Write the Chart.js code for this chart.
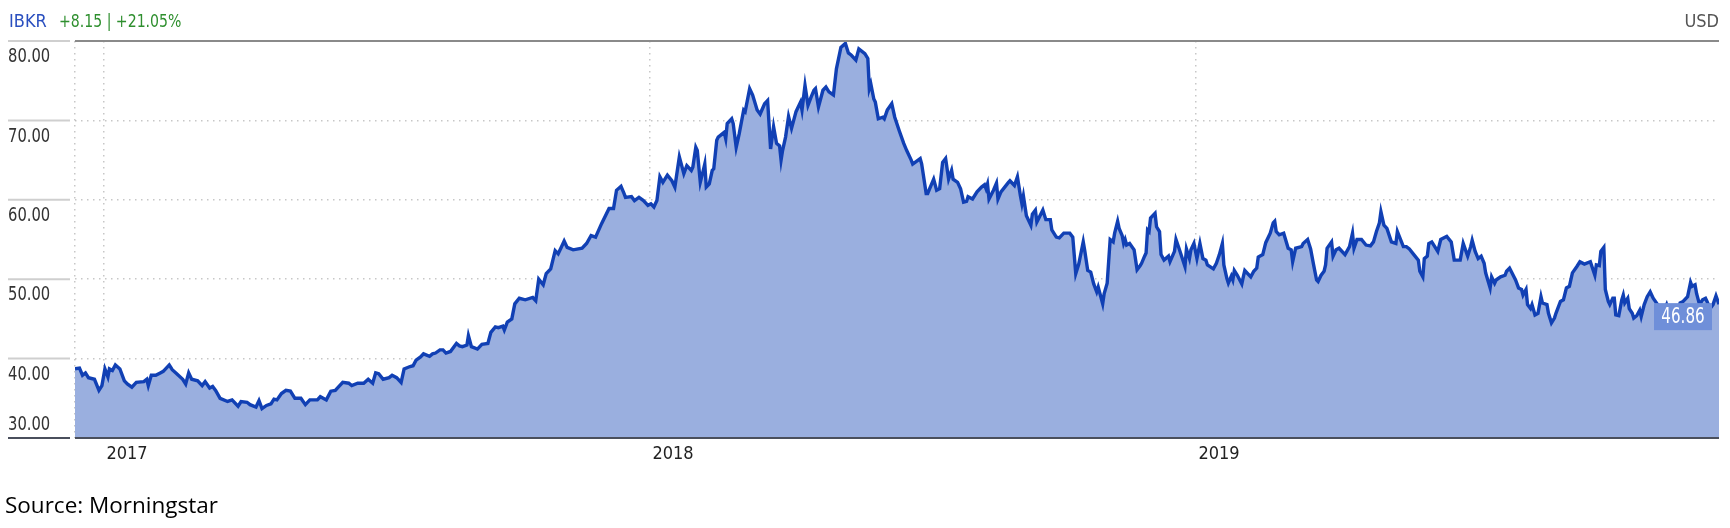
<!DOCTYPE html>
<html>
<head>
<meta charset="utf-8">
<script src="https://cdn.jsdelivr.net/npm/chart.js@4.4.1/dist/chart.umd.min.js"></script>
<style>
  html, body { margin: 0; padding: 0; background: #fff; }
  #wrap { position: relative; width: 1730px; height: 528px; overflow: hidden; }
  #graph { position: absolute; left: 0; top: 0; }
  .narrow { font-family: 'DejaVu Sans Condensed', 'Roboto', sans-serif; }
  #ticker { position: absolute; left: 9px; top: 10px; font-size: 18px; color: #2a4fbf; }
  #change { position: absolute; left: 59px; top: 10px; font-size: 18px; color: #2e8f2e; transform: scaleX(0.87); transform-origin: left center; white-space: nowrap; }
  #currency { position: absolute; right: 11px; top: 10px; font-size: 18px; color: #555; }
  #source { position: absolute; left: 5px; top: 489px; font-family: 'Open Sans', sans-serif; font-size: 22.5px; color: #000; }
</style>
</head>
<body>
<div id="wrap">
  <canvas id="graph" width="1730" height="528"></canvas>
  <div id="ticker" class="narrow">IBKR</div>
  <div id="change" class="narrow">+8.15 | +21.05%</div>
  <div id="currency" class="narrow">USD</div>
  <div id="source">Source: Morningstar</div>
</div>
<script>
// days since 2017-01-01
const days = [
  -19, -16, -14, -12, -10, -6, -3, -1, 1, 3, 4, 6, 8, 11, 14, 16, 19, 22, 27, 29,
  30, 32, 35, 38, 40, 44, 46, 49, 53, 55, 57, 59, 63, 66, 68, 71, 73, 75, 78, 83,
  86, 90, 92, 96, 98, 102, 104, 106, 109, 112, 114, 116, 119, 122, 125, 128, 132, 135, 138, 143,
  145, 149, 152, 155, 157, 160, 164, 166, 170, 174, 177, 180, 182, 184, 187, 191, 193, 196, 199, 201,
  205, 207, 209, 212, 214, 218, 220, 222, 225, 227, 229, 232, 236, 238, 240, 243, 244, 246, 250, 253,
  257, 259, 262, 264, 267, 268, 270, 273, 275, 278, 282, 287, 289, 291, 294, 296, 299, 302, 304, 306,
  308, 310, 314, 320, 323, 326, 329, 333, 338, 341, 343, 346, 348, 349, 353, 355, 358, 361, 364, 366,
  368, 370, 372, 374, 377, 380, 382, 385, 388, 390, 393, 394, 396, 397, 399, 401, 402, 403, 405, 407,
  408, 410, 411, 415, 416, 417, 420, 421, 423, 425, 428, 429, 432, 434, 437, 439, 442, 444, 446, 448,
  450, 452, 453, 454, 456, 458, 460, 463, 466, 467, 469, 471, 473, 475, 476, 478, 481, 483, 485, 488,
  490, 493, 496, 498, 500, 503, 505, 509, 511, 512, 513, 515, 516, 518, 521, 522, 524, 527, 529, 532,
  535, 537, 540, 541, 546, 547, 550, 551, 555, 557, 559, 561, 563, 565, 567, 568, 571, 573, 575, 577,
  578, 581, 584, 587, 589, 590, 591, 592, 595, 597, 598, 600, 605, 606, 609, 611, 613, 614, 615, 617,
  620, 621, 623, 624, 628, 630, 633, 634, 637, 639, 642, 646, 648, 650, 652, 655, 656, 658, 660, 662,
  664, 665, 668, 669, 671, 673, 675, 676, 678, 679, 681, 682, 683, 684, 686, 689, 691, 693, 694, 696,
  697, 698, 699, 700, 703, 704, 706, 707, 709, 712, 713, 716, 717, 719, 723, 724, 726, 727, 729, 731,
  733, 735, 737, 738, 742, 744, 746, 748, 749, 751, 752, 754, 755, 756, 758, 761, 762, 763, 767, 769,
  771, 772, 775, 777, 780, 782, 783, 784, 786, 789, 792, 794, 795, 797, 801, 802, 805, 807, 809, 811,
  812, 814, 816, 817, 818, 821, 822, 824, 826, 830, 833, 835, 836, 838, 841, 844, 847, 849, 851, 853,
  854, 856, 858, 861, 864, 865, 869, 871, 873, 876, 879, 880, 882, 883, 885, 886, 888, 892, 894, 898,
  901, 903, 907, 909, 912, 914, 915, 917, 919, 921, 923, 924, 927, 928, 930, 931, 934, 937, 938, 940,
  944, 946, 948, 949, 951, 952, 954, 955, 957, 959, 961, 962, 965, 966, 968, 970, 971, 974, 976, 978,
  980, 982, 985, 987, 990, 994, 997, 998, 1000, 1001, 1003, 1004, 1006, 1007, 1009, 1010, 1011, 1013, 1015, 1016,
  1017, 1019, 1020, 1022, 1023, 1025, 1027, 1028, 1030, 1032, 1034, 1036, 1039, 1041, 1043, 1045, 1046, 1048, 1053, 1054,
  1056, 1059, 1061, 1062, 1064, 1065, 1067, 1069, 1071, 1072, 1074, 1076, 1078, 1080
];
const prices = [
  38.71, 38.8, 37.9, 38.2, 37.6, 37.4, 36.0, 36.6, 38.7, 37.7, 38.7, 38.5, 39.2, 38.7, 37.2, 36.8, 36.4, 37.0, 37.1, 37.4,
  36.6, 37.9, 37.9, 38.2, 38.4, 39.2, 38.6, 38.1, 37.4, 36.8, 38.2, 37.4, 37.2, 36.6, 37.1, 36.3, 36.5, 36.0, 35.0, 34.6,
  34.8, 34.0, 34.6, 34.5, 34.2, 33.9, 34.7, 33.7, 34.1, 34.3, 34.9, 34.8, 35.6, 36.0, 35.9, 35.0, 35.0, 34.2, 34.8, 34.8,
  35.2, 34.8, 35.9, 36.0, 36.4, 37.0, 36.9, 36.6, 36.9, 36.9, 37.4, 36.9, 38.2, 38.1, 37.4, 37.6, 37.9, 37.6, 37.0, 38.7,
  39.0, 39.1, 39.8, 40.2, 40.6, 40.3, 40.6, 40.7, 41.1, 41.1, 40.7, 40.9, 41.9, 41.6, 41.5, 41.7, 42.9, 41.5, 41.2, 41.8,
  41.9, 43.3, 44.0, 43.9, 44.1, 43.6, 44.6, 45.0, 46.9, 47.6, 47.4, 47.7, 47.3, 50.0, 49.3, 50.7, 51.3, 53.6, 53.2, 54.0,
  54.8, 54.0, 53.7, 53.9, 54.5, 55.5, 55.3, 57.0, 58.9, 58.9, 61.2, 61.7, 60.8, 60.3, 60.4, 59.9, 60.3, 59.9, 59.3, 59.5,
  59.1, 59.9, 62.9, 62.2, 63.1, 62.4, 61.6, 65.4, 63.3, 64.3, 63.7, 64.1, 66.6, 66.2, 62.2, 63.7, 64.5, 61.6, 62.0, 63.7,
  63.9, 67.5, 67.9, 68.5, 67.7, 69.6, 70.2, 69.6, 66.6, 68.3, 71.3, 71.1, 74.0, 73.2, 71.3, 70.8, 72.1, 72.5, 66.4, 69.2,
  67.1, 66.8, 65.0, 66.2, 67.9, 70.5, 69.0, 71.1, 72.3, 71.3, 74.4, 71.9, 72.9, 73.8, 74.0, 71.7, 73.8, 74.2, 73.6, 73.2,
  76.5, 79.2, 79.7, 78.5, 78.2, 77.6, 79.0, 78.4, 77.8, 74.0, 74.6, 72.7, 72.3, 70.2, 70.4, 70.2, 71.3, 72.1, 70.4, 68.7,
  67.1, 66.2, 65.0, 64.5, 65.2, 64.5, 60.8, 60.8, 62.6, 61.2, 61.4, 64.7, 65.2, 62.6, 63.7, 62.6, 62.2, 61.4, 59.7, 59.8,
  60.4, 60.1, 61.0, 61.6, 61.9, 61.4, 62.0, 60.1, 61.2, 62.1, 60.1, 61.0, 62.2, 62.4, 61.8, 62.9, 60.5, 59.5, 60.5, 58.0,
  56.8, 58.2, 58.7, 57.2, 58.7, 57.5, 57.5, 56.2, 55.3, 55.2, 55.8, 55.8, 55.3, 50.7, 51.9, 54.7, 53.6, 51.1, 50.9, 49.4,
  48.4, 49.0, 46.9, 48.2, 49.5, 55.0, 54.7, 55.8, 57.3, 56.4, 55.5, 54.5, 55.0, 54.3, 54.5, 53.7, 51.2, 51.7, 52.0, 52.9,
  53.3, 56.2, 56.0, 57.7, 58.3, 56.6, 56.0, 53.1, 52.4, 52.9, 52.2, 53.5, 55.0, 53.9, 51.6, 53.8, 52.6, 53.7, 54.5, 52.6,
  54.5, 52.6, 52.4, 51.8, 51.3, 52.0, 53.1, 54.5, 51.8, 50.1, 49.5, 50.4, 49.9, 51.1, 50.5, 49.4, 50.3, 51.1, 50.3, 51.0,
  51.4, 52.8, 53.1, 54.6, 55.8, 57.1, 57.3, 56.0, 55.6, 55.8, 53.9, 53.7, 52.2, 53.9, 54.1, 54.5, 55.0, 53.8, 51.8, 49.9,
  49.7, 50.5, 51.0, 51.8, 53.9, 54.7, 52.9, 53.7, 53.9, 53.1, 54.1, 55.8, 53.9, 55.0, 55.0, 54.3, 54.2, 54.7, 56.0, 57.1,
  58.5, 56.8, 56.4, 54.7, 54.5, 56.0, 54.1, 54.1, 53.8, 53.1, 52.4, 51.0, 50.3, 52.6, 52.9, 54.5, 54.7, 53.5, 55.0, 55.4,
  54.7, 52.4, 52.4, 54.5, 52.9, 54.1, 54.9, 53.5, 52.6, 52.9, 52.0, 50.8, 48.9, 50.3, 49.5, 49.9, 50.3, 50.5, 51.0, 51.4,
  49.9, 48.9, 48.7, 48.0, 48.7, 46.8, 46.3, 46.8, 45.5, 45.7, 47.8, 47.0, 46.8, 45.7, 44.5, 45.1, 45.7, 47.2, 47.4, 48.9,
  49.1, 50.8, 51.6, 52.2, 51.9, 52.2, 50.5, 51.8, 51.7, 53.5, 54.0, 48.7, 47.2, 46.8, 47.6, 47.6, 45.5, 45.4, 47.4, 48.0,
  47.0, 47.6, 46.3, 45.7, 45.1, 45.4, 46.1, 45.3, 46.8, 47.8, 48.4, 47.6, 46.8, 46.3, 45.9, 46.8, 46.2, 46.5, 46.3, 47.0,
  47.2, 47.8, 49.6, 49.1, 49.3, 48.2, 46.8, 47.4, 47.6, 47.2, 46.3, 46.8, 47.9, 46.86
];

const yearTicks = [0, 365, 730];
const yearLabels = ['2017', '2018', '2019'];
const priceTicks = [30, 40, 50, 60, 70, 80];

const narrowFont = "'DejaVu Sans Condensed', Roboto, sans-serif";

// draws condensed text by squeezing the canvas horizontally
function squeezeText(c, text, x, y, sx) {
  c.save();
  c.translate(x, y);
  c.scale(sx, 1);
  c.fillText(text, 0, 0);
  c.restore();
}

// axis decorations: left tick strokes + labels, top/bottom rules, last value box
const decorations = {
  id: 'decorations',
  afterDraw(chart) {
    const c = chart.ctx;
    const area = chart.chartArea;
    const y = chart.scales.y;
    c.save();
    c.font = '20px ' + narrowFont;
    c.textAlign = 'left';
    priceTicks.forEach(v => {
      const py = y.getPixelForValue(v);
      const isMin = v === y.min;
      c.strokeStyle = isMin ? '#4a4f5c' : '#cfcfcf';
      c.lineWidth = 2;
      c.beginPath();
      c.moveTo(8, py);
      c.lineTo(70, py);
      c.stroke();
      c.fillStyle = '#333';
      if (isMin) {
        c.textBaseline = 'bottom';
        squeezeText(c, v.toFixed(2), 8, py - 3, 0.82);
      } else {
        c.textBaseline = 'top';
        squeezeText(c, v.toFixed(2), 8, py + 6, 0.82);
      }
    });
    // top rule
    c.strokeStyle = '#8a8a8a';
    c.lineWidth = 2;
    c.beginPath();
    c.moveTo(area.left, y.getPixelForValue(y.max));
    c.lineTo(area.right, y.getPixelForValue(y.max));
    c.stroke();
    // bottom rule
    c.strokeStyle = '#4a4f5c';
    c.beginPath();
    c.moveTo(area.left, y.getPixelForValue(y.min));
    c.lineTo(area.right, y.getPixelForValue(y.min));
    c.stroke();

    // last value box
    const meta = chart.getDatasetMeta(0);
    const last = meta.data[meta.data.length - 1];
    const bw = 58, bh = 27;
    const bx = area.right - 7 - bw;
    const by = last.y - 1;
    c.fillStyle = '#6f8fd9';
    c.fillRect(bx, by, bw, bh);
    c.fillStyle = '#fff';
    c.font = '21px ' + narrowFont;
    c.textAlign = 'center';
    c.textBaseline = 'middle';
    squeezeText(c, prices[prices.length - 1].toFixed(2), bx + bw / 2, by + bh / 2 + 1, 0.8);
    c.restore();
  }
};

const ctx = document.getElementById('graph').getContext('2d');
const chart = new Chart(ctx, {
  type: 'line',
  data: {
    datasets: [{
      label: 'IBKR',
      data: days.map((d, i) => ({ x: d, y: prices[i] })),
      borderColor: '#1140b4',
      backgroundColor: '#9aafdf',
      borderWidth: 3.4,
      pointRadius: 0,
      tension: 0,
      fill: 'start'
    }]
  },
  options: {
    responsive: false,
    animation: false,
    devicePixelRatio: 1,
    layout: { padding: { top: 41, right: 11, left: 0, bottom: 0 } },
    plugins: { legend: { display: false }, tooltip: { enabled: false } },
    scales: {
      x: {
        type: 'linear',
        min: -19,
        max: 1080,
        z: 1,
        afterFit: s => { s.height = 90; },
        afterBuildTicks: s => { s.ticks = [-19].concat(yearTicks).map(v => ({ value: v })); },
        grid: { color: 'rgba(0,0,0,0.22)', lineWidth: 1.5, drawTicks: false },
        border: { display: false, dash: [1.5, 4.5] },
        ticks: {
          autoSkip: false,
          maxRotation: 0,
          align: 'start',
          labelOffset: 3,
          padding: 6,
          color: '#222',
          font: { family: narrowFont, size: 18 },
          callback: v => { const i = yearTicks.indexOf(v); return i >= 0 ? yearLabels[i] : ''; }
        }
      },
      y: {
        min: 30,
        max: 80,
        z: 1,
        afterFit: s => { s.width = 75; },
        afterBuildTicks: s => { s.ticks = priceTicks.map(v => ({ value: v })); },
        grid: { color: 'rgba(0,0,0,0.22)', lineWidth: 1.5, drawTicks: false },
        border: { display: false, dash: [1.5, 4.5] },
        ticks: { display: false }
      }
    }
  },
  plugins: [decorations]
});
</script>
</body>
</html>
